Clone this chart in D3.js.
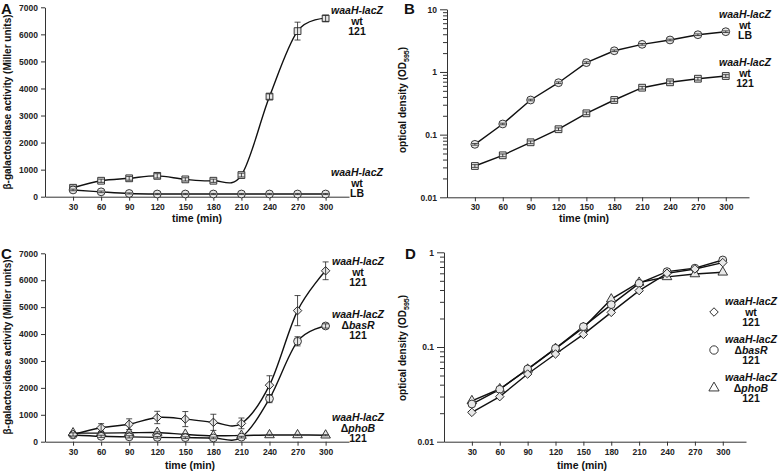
<!DOCTYPE html>
<html><head><meta charset="utf-8">
<script src="https://cdn.jsdelivr.net/npm/d3@7"></script>
<style>
body{margin:0;background:#fff;}
svg{font-family:"Liberation Sans",Arial,Helvetica,sans-serif;}
.tick text{font-size:8.5px;font-weight:bold;fill:#222;}
.axis path,.axis line{stroke:#333;stroke-width:1;}
</style></head><body>
<svg id="c" width="778" height="472"></svg>
<script>
// ---------- DATA ----------
const times = [30,60,90,120,150,180,210,240,270,300];
const xTicks = [30,60,90,120,150,180,210,240,270,300];
const linTicks = [0,1000,2000,3000,4000,5000,6000,7000];
const logTicksB = [0.01,0.1,1,10];
const logTicksD = [0.01,0.1,1];

// Panel A: beta-galactosidase (Miller units)
const A_wt121 = [330,590,680,770,640,590,800,3700,6120,6590];
const A_wt121_err = [60,60,70,80,60,60,70,100,330,110];
const A_wtLB = [250,180,120,100,100,100,100,100,100,100];
const A_wtLB_err = [30,30,20,20,20,20,20,20,20,20];

// Panel B: OD595
const B_wtLB = [0.070,0.148,0.357,0.674,1.41,2.18,2.76,3.24,3.93,4.39];
const B_wt121 = [0.0316,0.0468,0.0755,0.122,0.219,0.357,0.561,0.684,0.78,0.862];

// Panel C: beta-galactosidase
const C_wt = [270,520,650,900,840,720,680,2100,4870,6350];
const C_wt_err = [60,150,200,230,280,300,200,350,560,330];
const C_basR = [250,200,180,160,150,140,170,1600,3730,4300];
const C_basR_err = [40,40,40,30,30,30,30,150,170,80];
const C_phoB = [320,320,330,340,270,220,230,250,250,240];
const C_phoB_err = [30,30,30,30,30,30,20,20,20,20];

// Panel D: OD595
const D_wt = [0.0204,0.0299,0.0518,0.0844,0.136,0.232,0.394,0.60,0.667,0.778];
const D_basR = [0.025,0.0357,0.0586,0.0968,0.164,0.28,0.47,0.625,0.68,0.83];
const D_phoB = [0.027,0.036,0.058,0.096,0.16,0.32,0.48,0.55,0.59,0.615];

// ---------- DRAW ----------
const svg = d3.select("#c");
const markerFill = "#e8e8e8", markerStroke = "#222";
const DIAMOND = "diamond";

function symPath(type, size){
  if(type===DIAMOND) return d3.symbol().type(d3.symbolSquare).size(size)();
  return d3.symbol().type(type).size(size)();
}
function symRot(type){ return type===DIAMOND ? " rotate(45)" : ""; }

function panel(cfg){
  const g = svg.append("g");
  const x = d3.scaleLinear().domain([0,325]).range(cfg.xr);
  const y = cfg.log ? d3.scaleLog().domain(cfg.yd).range(cfg.yr)
                    : d3.scaleLinear().domain(cfg.yd).range(cfg.yr);
  g.append("g").attr("class","axis").attr("transform",`translate(0,${cfg.yr[0]})`)
    .call(d3.axisBottom(x).tickValues(xTicks).tickSize(4).tickSizeOuter(0).tickPadding(3));
  if(cfg.log){
    const minor = [];
    const lo = Math.round(Math.log10(cfg.yd[0])), hi = Math.round(Math.log10(cfg.yd[1]));
    for(let e=lo;e<hi;e++) for(let k=2;k<=9;k++) minor.push(k*Math.pow(10,e));
    g.append("g").attr("class","axis").attr("transform",`translate(${cfg.xr[0]},0)`)
      .call(d3.axisLeft(y).tickValues(minor).tickSize(4).tickFormat("").tickSizeOuter(0));
    g.append("g").attr("class","axis").attr("transform",`translate(${cfg.xr[0]},0)`)
      .call(d3.axisLeft(y).tickValues(cfg.ticks).tickSize(7).tickSizeOuter(0).tickPadding(3)
        .tickFormat(d=>String(d)));
  } else {
    g.append("g").attr("class","axis").attr("transform",`translate(${cfg.xr[0]},0)`)
      .call(d3.axisLeft(y).tickValues(cfg.ticks).tickSize(4).tickSizeOuter(0).tickPadding(3)
        .tickFormat(d3.format("d")));
  }
  cfg.series.forEach(s=>{
    const line = d3.line().x((d,i)=>x(times[i])).y(d=>y(d)).curve(cfg.curve);
    g.append("path").attr("d",line(s.values)).attr("fill","none")
      .attr("stroke","#111").attr("stroke-width",1.4);
  });
  cfg.series.forEach(s=>{
    s.values.forEach((v,i)=>{
      g.append("path").attr("d",symPath(s.sym,s.size))
        .attr("transform",`translate(${x(times[i])},${y(v)})${symRot(s.sym)}`)
        .attr("fill",markerFill).attr("stroke",markerStroke).attr("stroke-width",0.9);
      if(s.err){
        const e = s.err[i];
        const y1 = y(cfg.log? v*(1+e): v+e), y0 = y(cfg.log? v*(1-e): v-e);
        const cx = x(times[i]);
        const eg = g.append("g").attr("stroke","#222").attr("stroke-width",0.8);
        eg.append("line").attr("x1",cx).attr("x2",cx).attr("y1",y0).attr("y2",y1);
        eg.append("line").attr("x1",cx-3).attr("x2",cx+3).attr("y1",y0).attr("y2",y0);
        eg.append("line").attr("x1",cx-3).attr("x2",cx+3).attr("y1",y1).attr("y2",y1);
      }
    });
  });
  g.append("text").attr("x",cfg.letter[1]).attr("y",cfg.letter[2]).text(cfg.letter[0])
    .attr("font-size",15).attr("font-weight","bold").attr("fill","#111");
  g.append("text").attr("x",cfg.xt[0]).attr("y",cfg.xt[1]).attr("text-anchor","middle")
    .attr("font-size",10.5).attr("font-weight","bold").attr("fill","#111").text("time (min)");
  const yt = g.append("text").attr("transform",`translate(${cfg.yt[0]},${cfg.yt[1]}) rotate(-90)`)
    .attr("text-anchor","middle").attr("font-size",10).attr("font-weight","bold").attr("fill","#111");
  if(cfg.log){
    yt.append("tspan").text("optical density (OD");
    yt.append("tspan").text("595").attr("font-size",7).attr("dy",2.5);
    yt.append("tspan").text(")").attr("dy",-2.5);
  } else {
    yt.text("β-galactosidase activity (Miller units)");
  }
  cfg.labels.forEach(L=>{
    L.lines.forEach((t,j)=>{
      const tx = g.append("text").attr("x",L.x).attr("y",L.y+j*10.5).attr("text-anchor","middle")
        .attr("font-size",10.5).attr("font-weight","bold").attr("fill","#111");
      if(j===0){ tx.attr("font-style","italic").text(t); }
      else if(t.startsWith("Δ")){
        tx.append("tspan").text("Δ");
        tx.append("tspan").attr("font-style","italic").text(t.slice(1));
      } else tx.text(t);
    });
    if(L.sym){
      g.append("path").attr("d",symPath(L.sym,L.size))
        .attr("transform",`translate(${L.sx},${L.y+7})${symRot(L.sym)}`)
        .attr("fill","#fff").attr("stroke",markerStroke).attr("stroke-width",0.9);
    }
  });
  return g;
}

const curveSmooth = d3.curveCatmullRom.alpha(0);

panel({
  xr:[45,349], yr:[196.7,7.3], yd:[0,7000], ticks:linTicks, log:false, curve:curveSmooth,
  series:[
    {values:A_wt121, err:A_wt121_err, sym:d3.symbolSquare, size:46},
    {values:A_wtLB, err:A_wtLB_err, sym:d3.symbolCircle, size:48}
  ],
  letter:["A",1,14], xt:[197,222], yt:[11,102],
  labels:[
    {x:357, y:14, lines:["waaH-lacZ","wt","121"]},
    {x:357, y:176, lines:["waaH-lacZ","wt","LB"]}
  ]
});
panel({
  xr:[447,749], yr:[197.3,9.3], yd:[0.01,10], ticks:logTicksB, log:true, curve:d3.curveLinear,
  series:[
    {values:B_wtLB, err:B_wtLB.map(()=>0.03), sym:d3.symbolCircle, size:48},
    {values:B_wt121, err:B_wt121.map(()=>0.05), sym:d3.symbolSquare, size:46}
  ],
  letter:["B",404,14], xt:[584,222], yt:[406,100],
  labels:[
    {x:745, y:18, lines:["waaH-lacZ","wt","LB"]},
    {x:745, y:66, lines:["waaH-lacZ","wt","121"]}
  ]
});
panel({
  xr:[45,349], yr:[441.7,253.3], yd:[0,7000], ticks:linTicks, log:false, curve:curveSmooth,
  series:[
    {values:C_phoB, err:C_phoB_err, sym:d3.symbolTriangle, size:40},
    {values:C_basR, err:C_basR_err, sym:d3.symbolCircle, size:48},
    {values:C_wt, err:C_wt_err, sym:DIAMOND, size:36}
  ],
  letter:["C",1,259], xt:[190,469], yt:[11,347],
  labels:[
    {x:358, y:265, lines:["waaH-lacZ","wt","121"]},
    {x:358, y:318, lines:["waaH-lacZ","ΔbasR","121"]},
    {x:358, y:421, lines:["waaH-lacZ","ΔphoB","121"]}
  ]
});
panel({
  xr:[444,746], yr:[441.7,252.3], yd:[0.01,1], ticks:logTicksD, log:true, curve:d3.curveLinear,
  series:[
    {values:D_phoB, sym:d3.symbolTriangle, size:40},
    {values:D_basR, sym:d3.symbolCircle, size:48},
    {values:D_wt, sym:DIAMOND, size:36}
  ],
  letter:["D",405,259], xt:[582,469], yt:[406,348],
  labels:[
    {x:751, y:305, lines:["waaH-lacZ","wt","121"], sym:DIAMOND, size:36, sx:714},
    {x:751, y:343, lines:["waaH-lacZ","ΔbasR","121"], sym:d3.symbolCircle, size:55, sx:714},
    {x:751, y:381, lines:["waaH-lacZ","ΔphoB","121"], sym:d3.symbolTriangle, size:45, sx:714}
  ]
});
</script></body></html>
